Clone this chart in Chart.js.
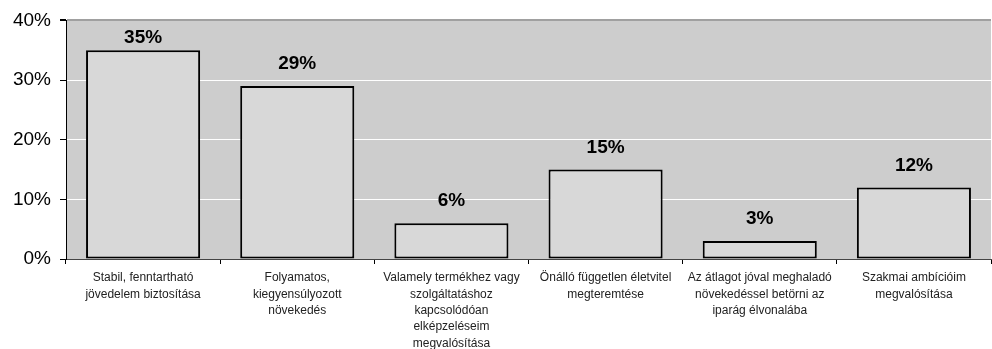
<!DOCTYPE html>
<html>
<head>
<meta charset="utf-8">
<script src="https://cdn.jsdelivr.net/npm/chart.js@4/dist/chart.umd.min.js"></script>
<style>
  html, body { margin: 0; padding: 0; background: #fff; }
  #wrap { width: 992px; height: 349px; }
</style>
</head>
<body>
<div id="wrap"><canvas id="chart"></canvas></div>
<script>
const categories = [
  ['Stabil, fenntartható', 'jövedelem biztosítása'],
  ['Folyamatos,', 'kiegyensúlyozott', 'növekedés'],
  ['Valamely termékhez vagy', 'szolgáltatáshoz', 'kapcsolódóan', 'elképzeléseim', 'megvalósítása'],
  ['Önálló független életvitel', 'megteremtése'],
  ['Az átlagot jóval meghaladó', 'növekedéssel betörni az', 'iparág élvonalába'],
  ['Szakmai ambícióim', 'megvalósítása']
]
const shares = [35, 29, 6, 15, 3, 12]
const yTicks = [0, 10, 20, 30, 40]

// grey plot background behind the bars
const plotBackground = {
  id: 'plotBackground',
  beforeDraw (chart) {
    const { ctx, chartArea: a } = chart
    ctx.save()
    ctx.fillStyle = '#cdcdcd'
    ctx.fillRect(a.left, a.top, a.right - a.left, a.bottom - a.top)
    ctx.restore()
  }
}

// bold percentage above each bar, kept inside the plot area
const valueLabels = {
  id: 'valueLabels',
  afterDatasetsDraw (chart) {
    const { ctx, chartArea } = chart
    const meta = chart.getDatasetMeta(0)
    ctx.save()
    ctx.font = 'bold 19px "Liberation Sans", Arial, sans-serif'
    ctx.fillStyle = '#000'
    ctx.textAlign = 'center'
    ctx.textBaseline = 'middle'
    meta.data.forEach((bar, i) => {
      const y = Math.max(bar.y - 22, chartArea.top + 17)
      ctx.fillText(shares[i] + '%', bar.x, y)
    })
    ctx.restore()
  }
}

// eslint-disable-next-line no-new
new Chart(document.getElementById('chart'), {
  type: 'bar',
  data: {
    labels: categories,
    datasets: [{
      data: shares,
      backgroundColor: '#d8d8d8',
      borderColor: '#000',
      borderWidth: 2,
      borderSkipped: false,
      categoryPercentage: 1,
      barPercentage: 0.74
    }]
  },
  options: {
    responsive: true,
    maintainAspectRatio: false,
    animation: false,
    layout: { padding: { top: 20, right: 1, left: 0, bottom: 0 } },
    plugins: {
      legend: { display: false },
      tooltip: { enabled: false }
    },
    scales: {
      // eslint-disable-next-line id-length
      x: {
        grid: {
          offset: true,
          drawOnChartArea: false,
          color: '#000',
          tickLength: 5
        },
        border: { color: '#444', width: 1 },
        ticks: {
          autoSkip: false,
          maxRotation: 0,
          minRotation: 0,
          padding: 6,
          color: '#222',
          font: { family: '"Liberation Sans", Arial, sans-serif', size: 12, lineHeight: 1.36 }
        },
        afterFit (scale) { scale.height = 90 }
      },
      // eslint-disable-next-line id-length
      y: {
        min: 0,
        max: 40,
        afterBuildTicks (scale) { scale.ticks = yTicks.map(v => ({ value: v })) },
        grid: {
          color: ctx => {
            const v = ctx.tick && ctx.tick.value
            if (v === 40) return '#a0a0a0'
            if (v === 0) return 'rgba(0,0,0,0)'
            return '#ffffff'
          },
          lineWidth: ctx => (ctx.tick && ctx.tick.value === 40 ? 2 : 1),
          tickColor: '#000',
          tickLength: 6
        },
        border: { color: '#000', width: 1 },
        ticks: {
          padding: 9,
          color: '#000',
          callback: v => v + '%',
          font: { family: '"Liberation Sans", Arial, sans-serif', size: 19 }
        },
        afterFit (scale) { scale.width = 66 }
      }
    }
  },
  plugins: [plotBackground, valueLabels]
})
</script>
</body>
</html>
